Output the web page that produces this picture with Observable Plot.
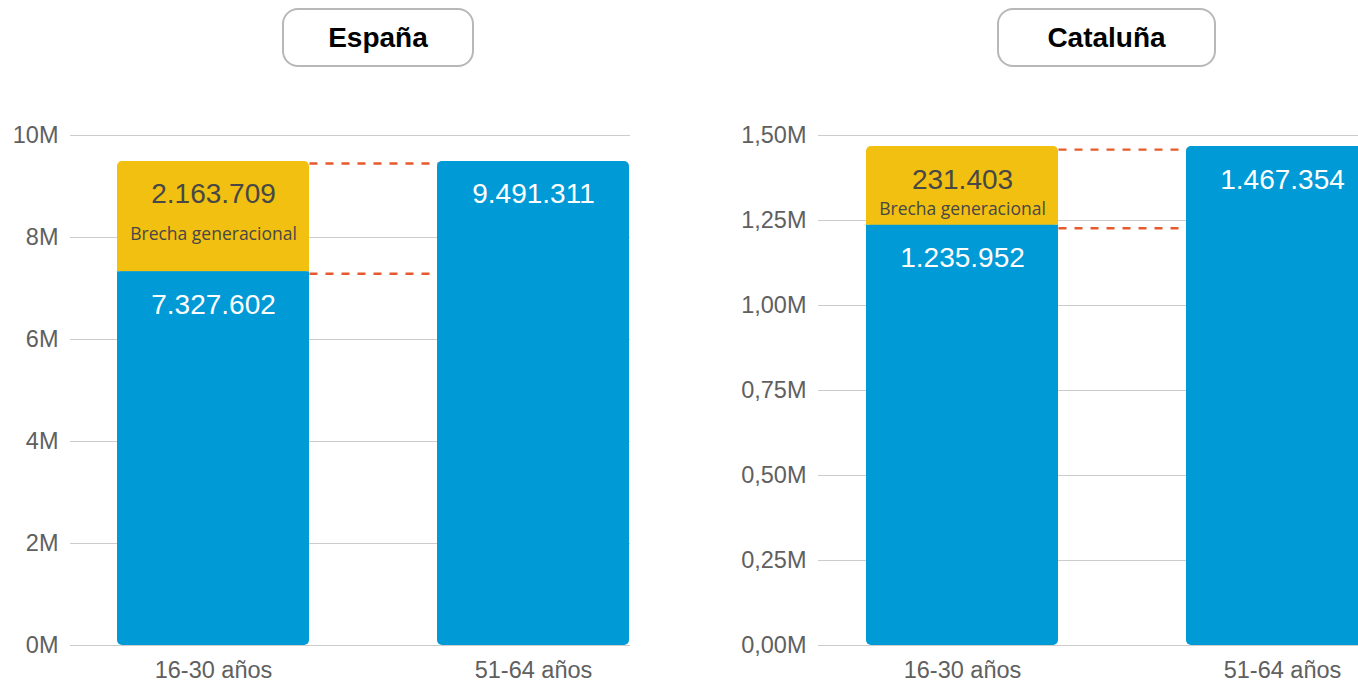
<!DOCTYPE html>
<html>
<head>
<meta charset="utf-8">
<script src="https://cdn.jsdelivr.net/npm/d3@7"></script>
<script src="https://cdn.jsdelivr.net/npm/@observablehq/plot@0.6"></script>
<style>
  html, body { margin: 0; padding: 0; background: #fff; overflow: hidden; }
  #root { position: relative; width: 1358px; height: 685px; overflow: hidden; font-family: "Liberation Sans", Arial, sans-serif; }
  .panel { position: absolute; top: 0; height: 685px; }
  .title { position: absolute; top: 8px; height: 59px; box-sizing: border-box; border: 2px solid #b8b8b8; border-radius: 16px;
           display: flex; align-items: center; justify-content: center; font-weight: bold; font-size: 28px; color: #000; background: #fff; }
  .chart { position: absolute; top: 100px; left: 0; }
</style>
</head>
<body>
<div id="root"></div>
<script>
// ---- data ----
const categories = ["16-30 años", "51-64 años"];
const regions = ["España", "Cataluña"];
const jovenes = [7327602, 1235952];   // ocupados 16-30 años
const mayores = [9491311, 1467354];   // ocupados 51-64 años
const brecha = [2163709, 231403];     // brecha generacional
const brechaLabel = "Brecha generacional";
const yMaxes = [10e6, 1.5e6];
const yTicksEspana = [0, 2e6, 4e6, 6e6, 8e6, 10e6];
const yTicksCataluna = [0, 0.25e6, 0.5e6, 0.75e6, 1e6, 1.25e6, 1.5e6];

const blue = "#009ad7", yellow = "#f2c010", dash = "#e65a2e";
const es = d3.formatLocale({decimal: ",", thousands: ".", grouping: [3], currency: ["", " €"]});
const fmtN = es.format(",d");
const fmtTickEs = d => (d / 1e6) + "M";
const fmtTickCat = d => es.format(".2f")(d / 1e6) + "M";

const panels = [
  {left: 0, width: 640, marginLeft: 70, marginRight: 10, range: [117, 629], ticks: yTicksEspana, tickFormat: fmtTickEs,
   brechaDy: 73, dashDy: 2, titleLeft: 282, titleWidth: 192},
  {left: 700, width: 690, marginLeft: 118, marginRight: 12, range: [166, 678], ticks: yTicksCataluna, tickFormat: fmtTickCat,
   brechaDy: 63, dashDy: 3, titleLeft: 297, titleWidth: 219}
];

const root = document.getElementById("root");

panels.forEach((cfg, i) => {
  const panel = document.createElement("div");
  panel.className = "panel";
  panel.style.left = cfg.left + "px";
  panel.style.width = cfg.width + "px";

  const title = document.createElement("div");
  title.className = "title";
  title.style.left = cfg.titleLeft + "px";
  title.style.width = cfg.titleWidth + "px";
  title.textContent = regions[i];
  panel.appendChild(title);

  const [c0, c1] = categories;
  const blueBars = [{cat: c0, v: jovenes[i]}, {cat: c1, v: mayores[i]}];
  const yellowBar = [{cat: c0, y1: jovenes[i], y2: mayores[i]}];
  const small = yMaxes[i] * 0.02;
  const dashes = [{a: c0, b: c1, y: mayores[i]}, {a: c0, b: c1, y: jovenes[i]}];
  const whiteLabels = [{cat: c0, y: jovenes[i], t: fmtN(jovenes[i])}, {cat: c1, y: mayores[i], t: fmtN(mayores[i])}];
  const gapLabel = [{cat: c0, y: mayores[i], t: fmtN(brecha[i])}];
  const gapText = [{cat: c0, y: mayores[i], t: brechaLabel}];

  const chart = Plot.plot({
    width: cfg.width,
    height: 585,
    marginTop: 35,
    marginBottom: 40,
    marginLeft: cfg.marginLeft,
    marginRight: cfg.marginRight,
    style: {fontSize: "23.5px", fontFamily: "'Liberation Sans', Arial, sans-serif", color: "#606060", background: "transparent", overflow: "visible"},
    x: {domain: categories, range: cfg.range, paddingInner: 0.4, paddingOuter: 0, tickSize: 0, tickPadding: 16, label: null},
    y: {domain: [0, yMaxes[i]], ticks: cfg.ticks, tickFormat: cfg.tickFormat, tickSize: 0, tickPadding: 12, label: null},
    marks: [
      Plot.ruleY(cfg.ticks, {stroke: "#cccccc", strokeWidth: 1.2}),
      Plot.link(dashes, {x1: d => d.a, x2: d => d.b, y1: d => d.y, y2: d => d.y, stroke: dash, strokeWidth: 2.4, strokeDasharray: "8,8", dy: cfg.dashDy}),
      Plot.barY(blueBars, {x: d => d.cat, y: d => d.v, fill: blue, rx: 5}),
      Plot.barY(yellowBar, {x: d => d.cat, y1: d => d.y1, y2: d => d.y2, fill: yellow, rx: 5}),
      Plot.barY(yellowBar, {x: d => d.cat, y1: d => d.y1, y2: d => d.y1 + small, fill: yellow}),
      Plot.barY(yellowBar, {x: d => d.cat, y1: d => d.y1 - small, y2: d => d.y1, fill: blue}),
      Plot.text(whiteLabels, {x: d => d.cat, y: d => d.y, text: d => d.t, dy: 33, fill: "#fff", fontSize: 28}),
      Plot.text(gapLabel, {x: d => d.cat, y: d => d.y, text: d => d.t, dy: 33, fill: "#474747", fontSize: 28}),
      Plot.text(gapText, {x: d => d.cat, y: d => d.y, text: d => d.t, dy: cfg.brechaDy, fill: "#474747", fontSize: 17.5, fontFamily: "'Open Sans', 'Noto Sans', sans-serif"})
    ]
  });
  chart.classList.add("chart");
  panel.appendChild(chart);
  root.appendChild(panel);
});
</script>
</body>
</html>
